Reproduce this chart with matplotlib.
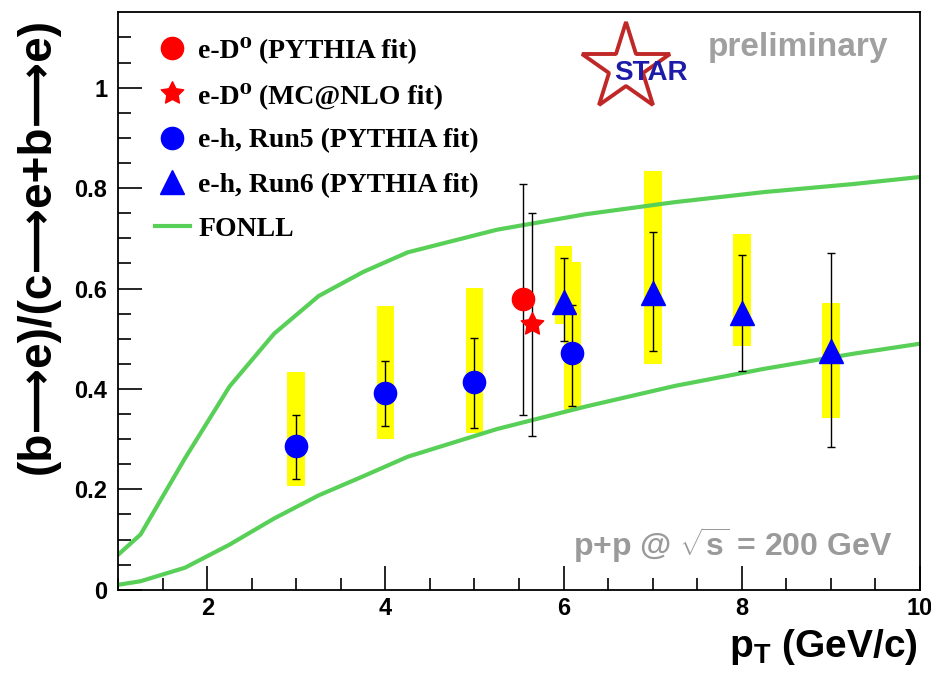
import numpy as np
import matplotlib
matplotlib.use("Agg")
import matplotlib.pyplot as plt
from matplotlib.path import Path
from matplotlib.lines import Line2D
from matplotlib.font_manager import FontProperties

plt.rcParams['font.family'] = ['Liberation Sans', 'DejaVu Sans']
plt.rcParams['mathtext.fontset'] = 'custom'
plt.rcParams['mathtext.rm'] = 'Liberation Sans:bold'
plt.rcParams['mathtext.sf'] = 'Liberation Sans:bold'
plt.rcParams['mathtext.bf'] = 'Liberation Sans:bold'

# e-h correlations, Run5 (PYTHIA fit)
run5_x = [3.0, 4.0, 5.0, 6.1]
run5_y = [0.287, 0.391, 0.413, 0.471]
run5_stat_hi = [0.349, 0.455, 0.501, 0.568]
run5_stat_lo = [0.221, 0.326, 0.323, 0.367]
run5_sys_hi = [0.433, 0.566, 0.601, 0.653]
run5_sys_lo = [0.207, 0.300, 0.312, 0.359]

# e-h correlations, Run6 (PYTHIA fit)
run6_x = [6.0, 7.0, 8.0, 9.0]
run6_y = [0.574, 0.592, 0.551, 0.475]
run6_stat_hi = [0.660, 0.712, 0.667, 0.670]
run6_stat_lo = [0.495, 0.476, 0.435, 0.285]
run6_sys_hi = [0.684, 0.835, 0.709, 0.572]
run6_sys_lo = [0.529, 0.450, 0.485, 0.342]

# e-D0 correlations
d0_py_x, d0_py_y, d0_py_hi, d0_py_lo = [5.55], [0.579], [0.808], [0.349]
d0_mc_x, d0_mc_y, d0_mc_hi, d0_mc_lo = [5.65], [0.529], [0.750], [0.307]

# FONLL band edges
fonll_x = [1.0, 1.25, 1.75, 2.25, 2.75, 3.25, 3.75, 4.25, 5.25, 6.25, 7.25, 8.25, 9.25, 10.0]
fonll_up = [0.070, 0.110, 0.262, 0.405, 0.510, 0.585, 0.633, 0.672, 0.717, 0.748, 0.772, 0.792, 0.808, 0.822]
fonll_lo = [0.010, 0.017, 0.044, 0.090, 0.142, 0.188, 0.226, 0.265, 0.320, 0.365, 0.406, 0.440, 0.470, 0.490]

green = '#58d058'
fat_star = Path.unit_regular_star(5, 0.5)

fig = plt.figure(figsize=(9.31, 6.85), dpi=100)
ax = fig.add_axes([0.127, 0.139, 0.861, 0.843])

def sysbox(x, lo, hi):
    lo = np.array(lo)
    hi = np.array(hi)
    ax.bar(x, hi - lo, bottom=lo, width=0.2, color='#ffff00', zorder=1, linewidth=0)

def staterr(x, y, lo, hi):
    y = np.array(y)
    yerr = [y - np.array(lo), np.array(hi) - y]
    ax.errorbar(x, y, yerr=yerr, fmt='none', ecolor='black', elinewidth=1.0,
                capsize=2.8, capthick=1.0, zorder=3)

sysbox(run5_x, run5_sys_lo, run5_sys_hi)
sysbox(run6_x, run6_sys_lo, run6_sys_hi)

ax.plot(fonll_x, fonll_up, color=green, lw=3, zorder=2)
ax.plot(fonll_x, fonll_lo, color=green, lw=3, zorder=2)

staterr(run5_x, run5_y, run5_stat_lo, run5_stat_hi)
staterr(run6_x, run6_y, run6_stat_lo, run6_stat_hi)
staterr(d0_py_x, d0_py_y, d0_py_lo, d0_py_hi)
staterr(d0_mc_x, d0_mc_y, d0_mc_lo, d0_mc_hi)

ax.plot(d0_py_x, d0_py_y, 'o', color='red', ms=16, mec='red', zorder=4)
ax.plot(d0_mc_x, d0_mc_y, marker=fat_star, ls='none', color='red', ms=17, zorder=4)
ax.plot(run5_x, run5_y, 'o', color='blue', ms=16, zorder=4)
ax.plot(run6_x, run6_y, '^', color='blue', ms=17, zorder=4)

ax.set_xlim(1, 10)
ax.set_ylim(0, 1.15)
ax.set_xticks([2, 4, 6, 8, 10])
ax.set_xticks(np.arange(1, 10.01, 0.5), minor=True)
ax.set_yticks([0, 0.2, 0.4, 0.6, 0.8, 1.0])
ax.set_yticklabels(['0', '0.2', '0.4', '0.6', '0.8', '1'])
ax.set_yticks(np.arange(0, 1.15, 0.05), minor=True)
ax.tick_params(which='both', direction='in', top=False, right=False, width=1.2)
ax.tick_params(which='major', length=17, labelsize=17)
ax.tick_params(axis='x', which='major', pad=5)
ax.tick_params(axis='y', which='major', pad=8)
ax.tick_params(which='minor', length=9)
for lab in ax.get_xticklabels() + ax.get_yticklabels():
    lab.set_fontweight('bold')
for sp in ax.spines.values():
    sp.set_linewidth(1.3)

# legend
handles = [
    Line2D([], [], marker='o', ls='none', color='red', ms=16),
    Line2D([], [], marker=fat_star, ls='none', color='red', ms=17),
    Line2D([], [], marker='o', ls='none', color='blue', ms=16),
    Line2D([], [], marker='^', ls='none', color='blue', ms=17),
    Line2D([], [], color=green, lw=3),
]
labels = ['e-D⁰ (PYTHIA fit)', 'e-D⁰ (MC@NLO fit)',
          'e-h, Run5 (PYTHIA fit)', 'e-h, Run6 (PYTHIA fit)', 'FONLL']
leg_font = FontProperties(family=['Liberation Serif', 'DejaVu Serif'], weight='bold', size=20)
ax.legend(handles, labels, loc='upper left', bbox_to_anchor=(0.046, 0.958),
          frameon=False, borderpad=0, borderaxespad=0, handlelength=1.25,
          handletextpad=0.3, labelspacing=0.68, prop=leg_font)

# STAR logo + preliminary
ax.plot([0.633], [0.903], marker='*', ms=66, mfc='none', mec='#c02828', mew=2.8,
        transform=ax.transAxes, clip_on=False, zorder=5)
ax.text(0.665, 0.895, 'STAR', transform=ax.transAxes, ha='center', va='center',
        fontsize=20, fontweight='bold', color='#1c1ca8', zorder=6)
ax.text(0.961, 0.939, 'preliminary', transform=ax.transAxes, ha='right', va='center',
        fontsize=24, fontweight='bold', color='#a0a0a0')
ax.text(0.966, 0.078, r'p+p @ $\sqrt{\mathsf{s}}$ = 200 GeV', transform=ax.transAxes,
        ha='right', va='center', fontsize=23, fontweight='bold', color='#9a9a9a')

fig.text(0.041, 0.974, '(b⟶e)/(c⟶e+b⟶e)', rotation=90, ha='center', va='top',
         fontsize=33, fontweight='bold')
fig.text(0.986, 0.041, r'$\mathsf{p}_{\mathsf{T}}$ (GeV/c)', ha='right', va='baseline',
         fontsize=28, fontweight='bold')

fig.savefig('out.png', dpi=100)
